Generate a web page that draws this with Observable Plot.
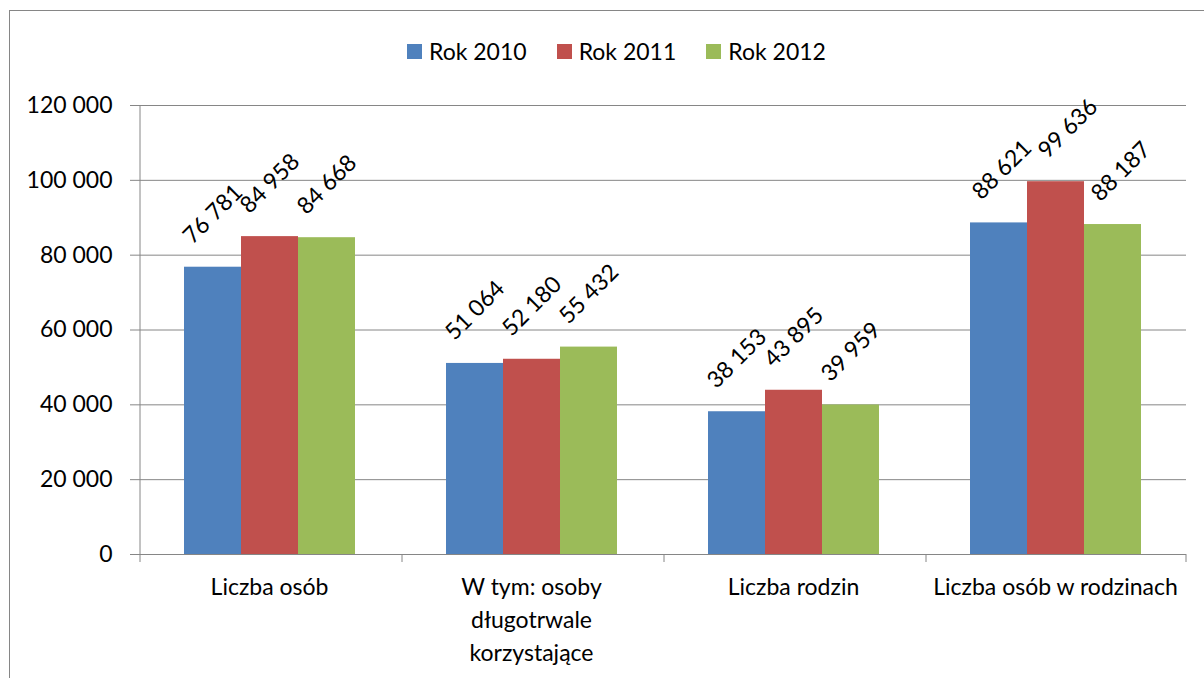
<!DOCTYPE html>
<html><head><meta charset="utf-8">
<script src="https://cdn.jsdelivr.net/npm/d3@7"></script>
<script src="https://cdn.jsdelivr.net/npm/@observablehq/plot@0.6"></script>
<style>
html,body{margin:0;padding:0;background:#fff;overflow:hidden;width:1204px;height:678px;}
#frame{position:absolute;left:9px;top:10px;width:1300px;height:800px;border-left:1px solid #868686;border-top:1px solid #868686;}
#legend{box-sizing:border-box;height:54px;padding-top:28px;padding-left:397px;display:flex;align-items:flex-start;font:23px Lato,sans-serif;color:#000;}
#legend .item{display:flex;align-items:center;margin-right:30px;line-height:24px;height:24px;}
#legend .sw{width:15px;height:15px;margin-right:7px;}
#chart svg{display:block;overflow:visible;}
</style></head>
<body>
<div id="frame">
  <div id="legend"></div>
  <div id="chart"></div>
</div>
<script>
const categories = ["Liczba osób", "W tym: osoby długotrwale korzystające", "Liczba rodzin", "Liczba osób w rodzinach"];
const categoryLabels = ["Liczba osób", "W tym: osoby\ndługotrwale\nkorzystające", "Liczba rodzin", "Liczba osób w rodzinach"];
const years = ["Rok 2010", "Rok 2011", "Rok 2012"];
const values2010 = [76781, 51064, 38153, 88621];
const values2011 = [84958, 52180, 43895, 99636];
const values2012 = [84668, 55432, 39959, 88187];
const colors = ["#4F81BD", "#C0504D", "#9BBB59"];
const yTicks = [0, 20000, 40000, 60000, 80000, 100000, 120000];

const series = [values2010, values2011, values2012];
const data = [];
categories.forEach((c, i) => years.forEach((y, j) => data.push({category: c, year: y, value: series[j][i]})));

const fmt = d => d3.format(",")(d).replace(/,/g, " ");
const gray = "#868686";
const FS = 23;

const legend = document.getElementById("legend");
years.forEach((y, j) => {
  const it = document.createElement("div"); it.className = "item";
  const sw = document.createElement("div"); sw.className = "sw"; sw.style.background = colors[j];
  const t = document.createElement("span"); t.textContent = y;
  it.appendChild(sw); it.appendChild(t); legend.appendChild(it);
});

// label nudges (Excel shifted the crowded last group's labels slightly right)
const lastCat = categories[categories.length - 1];
const mainLabels = data.filter(d => d.category !== lastCat);
const lastLabel = yr => data.filter(d => d.category === lastCat && d.year === yr);
const labelOpts = {fx: "category", x: "year", y: "value", text: d => fmt(d.value), rotate: -45, dy: -53, fontSize: FS, fill: "#000"};

const chart = Plot.plot({
  width: 1194,
  height: 613,
  marginLeft: 128,
  marginRight: 18,
  marginTop: 40,
  marginBottom: 124,
  style: {fontFamily: "Lato, sans-serif", fontSize: FS + "px", color: "#000", background: "#fff", overflow: "visible"},
  fx: {domain: categories, padding: 0, axis: null},
  x: {domain: years, paddingInner: 0, paddingOuter: 0.759, axis: null},
  y: {domain: [0, 120000], label: null},
  color: {domain: years, range: colors},
  marks: [
    Plot.gridY(yTicks, {stroke: gray, strokeOpacity: 1, strokeWidth: 1}),
    Plot.ruleX([categories[0]], {fx: d => d, x: () => years[0], dx: -73, y1: 0, y2: 120000, stroke: gray}),
    Plot.ruleX(categories, {fx: d => d, x: () => years[0], dx: -73, y1: 0, y2: 0, insetBottom: -8, stroke: gray}),
    Plot.ruleX([lastCat], {fx: d => d, x: () => years[2], dx: 73, y1: 0, y2: 0, insetBottom: -8, stroke: gray}),
    Plot.barY(data, {fx: "category", x: "year", y: "value", fill: "year"}),
    Plot.text(mainLabels, labelOpts),
    Plot.text(lastLabel(years[0]), {...labelOpts, dx: 3}),
    Plot.text(lastLabel(years[1]), {...labelOpts, dx: 12}),
    Plot.text(lastLabel(years[2]), {...labelOpts, dx: 8}),
    Plot.text(categories, {fx: d => d, text: (d, i) => categoryLabels[i], frameAnchor: "bottom", lineAnchor: "top", dy: 17, lineHeight: 1.43, fontSize: FS, fill: "#000"}),
    Plot.axisY(yTicks, {label: null, tickSize: 8, tickPadding: 18, tickFormat: fmt, stroke: gray, fill: "#000", fontSize: FS})
  ]
});
document.getElementById("chart").appendChild(chart);
</script>
</body></html>
